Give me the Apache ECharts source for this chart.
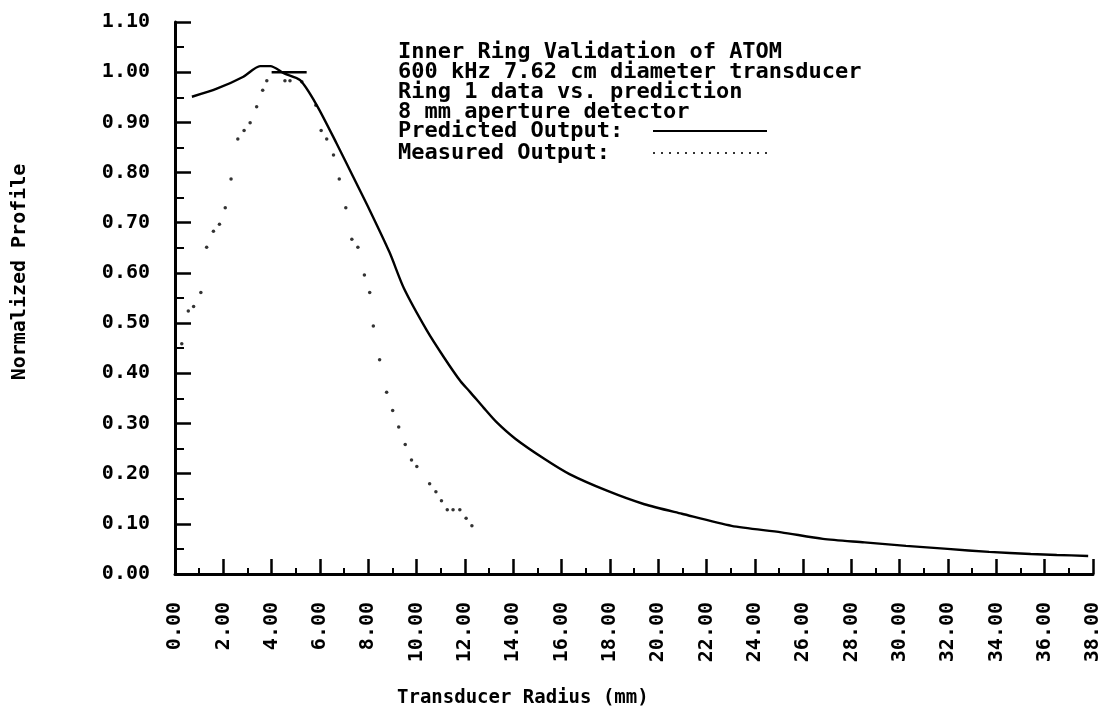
<!DOCTYPE html>
<html>
<head>
<meta charset="utf-8">
<script src="https://cdn.jsdelivr.net/npm/echarts@6/dist/echarts.min.js"></script>
<style>
html, body { margin: 0; padding: 0; background: #fff; }
#chart { width: 1104px; height: 715px; }
</style>
</head>
<body>
<div id="chart"></div>
<script>
// predicted output (solid curve)
var predictedX = [0.7, 1.73, 2.83, 3.52, 3.95, 4.5, 5.18, 5.87, 6.69, 7.38, 8.07, 8.88, 9.47, 10.43, 11.13, 11.82, 12.21, 12.78, 13.3, 14.1, 15.3, 16.33, 17.88, 19.43, 20.98, 23.04, 25.1, 26.82, 28.54, 30.26, 31.98, 33.7, 35.42, 36.5, 37.8];
var predictedY = [0.951, 0.967, 0.991, 1.012, 1.012, 0.998, 0.984, 0.934, 0.858, 0.791, 0.724, 0.641, 0.570, 0.485, 0.432, 0.384, 0.363, 0.331, 0.303, 0.269, 0.229, 0.199, 0.166, 0.139, 0.120, 0.096, 0.083, 0.070, 0.063, 0.056, 0.050, 0.044, 0.040, 0.038, 0.036];
// short flat piece of the predicted trace at 1.00
var plateauX = [4.0, 5.45];
var plateauY = [1.0, 1.0];
// measured output (dots)
var measuredX = [0.28, 0.55, 0.77, 1.07, 1.31, 1.59, 1.84, 2.08, 2.32, 2.6, 2.86, 3.11, 3.38, 3.63, 3.8, 4.55, 4.76, 5.25, 5.83, 6.05, 6.28, 6.56, 6.8, 7.07, 7.32, 7.57, 7.84, 8.06, 8.21, 8.47, 8.76, 9.01, 9.26, 9.53, 9.79, 10.01, 10.54, 10.8, 11.03, 11.27, 11.51, 11.79, 12.05, 12.29];
var measuredY = [0.459, 0.524, 0.533, 0.561, 0.651, 0.683, 0.697, 0.730, 0.787, 0.867, 0.884, 0.899, 0.931, 0.964, 0.983, 0.983, 0.983, 0.981, 0.934, 0.884, 0.867, 0.835, 0.787, 0.730, 0.667, 0.651, 0.596, 0.561, 0.494, 0.427, 0.362, 0.326, 0.293, 0.258, 0.227, 0.214, 0.180, 0.164, 0.146, 0.128, 0.128, 0.128, 0.111, 0.096];

var titleLines = ['Inner Ring Validation of ATOM', '600 kHz 7.62 cm diameter transducer', 'Ring 1 data vs. prediction', '8 mm aperture detector'];
var seriesNames = ['Predicted Output:', 'Measured Output:'];
var xName = 'Transducer Radius (mm)';
var yName = 'Normalized Profile';

var font = 'DejaVu Sans Mono';

function pairs(xs, ys) {
    return xs.map(function (x, i) { return [x, ys[i]]; });
}

// dotted sample for the legend
var dots = '';
for (var i = 0; i < 15; i++) {
    dots += 'M' + (i * 8) + ',0h2v2h-2z';
}

var myChart = echarts.init(document.getElementById('chart'));

var option = {
    animation: false,
    backgroundColor: '#fff',
    title: {
        text: titleLines.join('\n'),
        left: 398,
        top: 42,
        padding: 0,
        textStyle: {
            fontFamily: font,
            fontWeight: 'bold',
            fontSize: 22,
            lineHeight: 20,
            color: '#000'
        }
    },
    legend: {
        orient: 'vertical',
        align: 'right',
        left: 398,
        top: 120,
        padding: 0,
        itemGap: 0,
        itemWidth: 114,
        itemHeight: 2,
        selectedMode: false,
        data: [
            { name: seriesNames[0], icon: 'rect' },
            { name: seriesNames[1], icon: 'path://' + dots }
        ],
        formatter: function (name) { return '{t|' + name + '}'; },
        textStyle: {
            color: '#000',
            rich: {
                t: {
                    width: 250,
                    align: 'left',
                    fontFamily: font,
                    fontWeight: 'bold',
                    fontSize: 22,
                    lineHeight: 20,
                    color: '#000'
                }
            }
        }
    },
    grid: {
        left: 175,
        right: 11,
        top: 22,
        bottom: 141
    },
    xAxis: {
        type: 'value',
        min: 0,
        max: 38,
        interval: 2,
        splitLine: { show: false },
        axisLine: { lineStyle: { color: '#000', width: 3 } },
        axisTick: { inside: true, length: 15, lineStyle: { color: '#000', width: 2.5 } },
        minorTick: { show: true, splitNumber: 2, length: 6, lineStyle: { color: '#000', width: 2 } },
        axisLabel: {
            rotate: 90,
            margin: 28,
            color: '#000',
            fontFamily: font,
            fontWeight: 'bold',
            fontSize: 20,
            formatter: function (v) { return v.toFixed(2); }
        }
    },
    yAxis: {
        type: 'value',
        min: 0,
        max: 1.1,
        interval: 0.1,
        splitLine: { show: false },
        axisLine: { show: true, lineStyle: { color: '#000', width: 3 } },
        axisTick: { show: true, inside: true, length: 16, lineStyle: { color: '#000', width: 2.5 } },
        minorTick: { show: true, splitNumber: 2, length: 9, lineStyle: { color: '#000', width: 2 } },
        axisLabel: {
            margin: 25,
            color: '#000',
            fontFamily: font,
            fontWeight: 'bold',
            fontSize: 20,
            formatter: function (v) { return v.toFixed(2); }
        }
    },
    graphic: [
        {
            type: 'text',
            left: 397,
            top: 689,
            style: { text: xName, fontFamily: font, fontWeight: 'bold', fontSize: 19, fill: '#000' }
        },
        {
            type: 'text',
            x: 20,
            y: 272,
            rotation: Math.PI / 2,
            style: { text: yName, fontFamily: font, fontWeight: 'bold', fontSize: 20, fill: '#000', align: 'center', verticalAlign: 'middle' }
        }
    ],
    series: [
        {
            name: seriesNames[0],
            type: 'line',
            data: pairs(predictedX, predictedY),
            showSymbol: false,
            smooth: 0.25,
            color: '#000',
            lineStyle: { color: '#000', width: 2.4 }
        },
        {
            name: 'plateau',
            type: 'line',
            data: pairs(plateauX, plateauY),
            showSymbol: false,
            color: '#000',
            lineStyle: { color: '#000', width: 2.4 }
        },
        {
            name: seriesNames[1],
            type: 'scatter',
            data: pairs(measuredX, measuredY),
            symbol: 'circle',
            symbolSize: 3.5,
            itemStyle: { color: '#000' }
        }
    ]
};
myChart.setOption(option);
</script>
</body>
</html>
